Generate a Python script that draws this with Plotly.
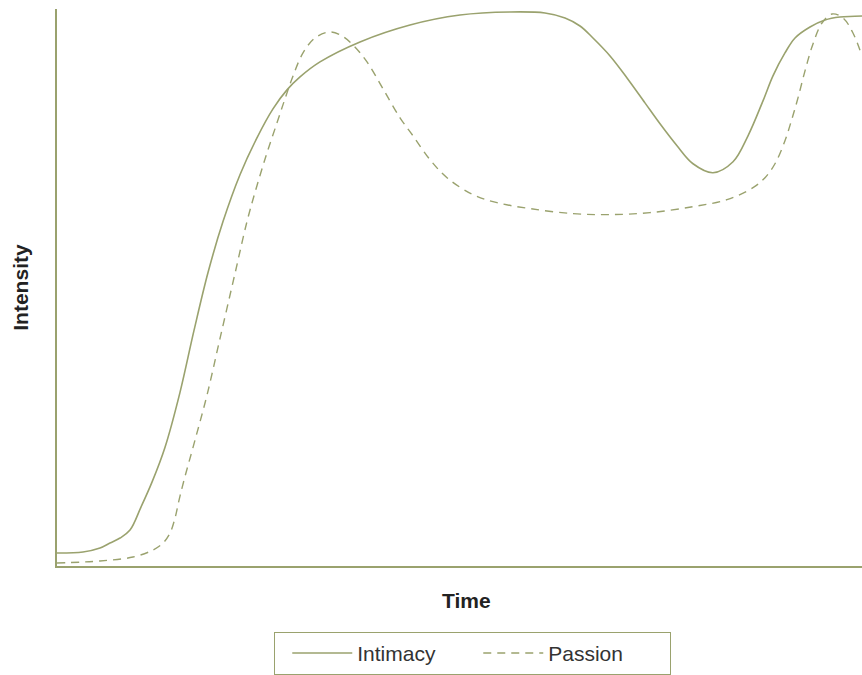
import plotly.graph_objects as go

# Data (time and intensity in arbitrary 0-100 units)
intimacy_time = [0.0, 3.23, 5.34, 6.58, 7.83, 9.07, 10.43, 11.80, 13.42, 15.28, 17.02, 18.76,
                 20.62, 22.73, 24.84, 26.83, 28.57, 30.19, 32.67, 37.64, 43.85, 50.06, 56.27,
                 60.62, 63.11, 64.97, 66.58, 68.70, 70.81, 73.04, 74.91, 77.02, 79.01, 81.49,
                 83.98, 85.84, 87.70, 88.94, 90.43, 91.68, 93.54, 95.40, 97.27, 100.0]
intimacy_val = [2.33, 2.51, 3.23, 4.12, 5.02, 6.45, 10.57, 15.05, 21.33, 31.18, 42.29, 52.69,
                61.83, 70.25, 76.88, 82.08, 85.48, 87.81, 90.50, 94.09, 97.13, 98.92, 99.46,
                99.28, 98.39, 96.95, 94.80, 91.58, 87.63, 83.15, 79.39, 75.45, 72.22, 70.61,
                72.58, 77.24, 83.51, 88.0, 92.11, 94.80, 96.77, 98.03, 98.57, 98.75]

passion_time = [0.0, 5.34, 9.44, 11.93, 13.17, 14.04, 14.66, 15.16, 15.78, 17.14, 18.63, 20.25,
                22.11, 23.60, 24.84, 26.09, 27.33, 28.32, 29.32, 30.56, 32.05, 33.91, 35.40,
                36.77, 38.51, 40.50, 42.61, 44.22, 46.34, 48.45, 51.68, 54.66, 58.76, 64.10,
                68.70, 73.66, 79.01, 83.23, 86.46, 87.95, 89.19, 90.43, 91.30, 92.05, 92.92,
                93.91, 95.03, 96.27, 97.64, 98.88, 100.0]
passion_val = [0.54, 0.90, 1.61, 2.87, 4.12, 5.91, 8.60, 11.83, 15.41, 22.58, 30.65, 40.86,
               52.51, 61.83, 68.28, 74.19, 79.57, 83.87, 87.99, 92.11, 94.80, 95.88, 95.16,
               93.55, 90.50, 85.66, 80.47, 77.24, 72.94, 69.71, 66.67, 65.23, 64.16, 63.26,
               63.08, 63.44, 64.52, 65.77, 67.92, 69.71, 72.22, 76.34, 80.29, 84.05, 88.89,
               93.73, 97.49, 99.10, 98.39, 95.70, 91.58]

series_names = ["Intimacy", "Passion"]
x_title = "Time"
y_title = "Intensity"

OLIVE = "#9aa26e"
FONT = "Liberation Sans, Arial, sans-serif"

fig = go.Figure()
fig.add_trace(go.Scatter(
    x=intimacy_time, y=intimacy_val, name=series_names[0], mode="lines",
    line=dict(color=OLIVE, width=1.6, shape="spline", smoothing=1.0),
))
fig.add_trace(go.Scatter(
    x=passion_time, y=passion_val, name=series_names[1], mode="lines",
    line=dict(color=OLIVE, width=1.4, dash="8px,6px", shape="spline", smoothing=1.0),
))

fig.update_layout(
    width=862, height=675,
    margin=dict(l=57, r=0, t=9, b=109),
    paper_bgcolor="white", plot_bgcolor="white",
    font=dict(family=FONT, color="#333333"),
    showlegend=True,
    legend=dict(
        orientation="h",
        x=0.2696, xanchor="left",
        y=-0.1183, yanchor="top",
        bordercolor=OLIVE, borderwidth=1,
        font=dict(size=21, color="#333333", family=FONT),
        title=dict(text="\u00a0", side="left", font=dict(size=8)),
        itemwidth=60,
        entrywidth=116, entrywidthmode="pixels",
        bgcolor="white",
    ),
    xaxis=dict(
        range=[0, 100], showgrid=False, zeroline=False, showticklabels=False, ticks="",
        showline=True, linecolor=OLIVE, linewidth=2,
    ),
    yaxis=dict(
        range=[0, 100], showgrid=False, zeroline=False, showticklabels=False, ticks="",
        showline=True, linecolor=OLIVE, linewidth=2,
    ),
    annotations=[
        dict(text="<b>" + x_title + "</b>", xref="paper", yref="paper",
             x=0.509, y=-0.0627, xanchor="center", yanchor="middle", showarrow=False,
             font=dict(size=21, color="#222222", family=FONT)),
        dict(text="<b>" + y_title + "</b>", xref="paper", yref="paper",
             x=-0.0457, y=0.5, xanchor="center", yanchor="middle", showarrow=False,
             textangle=-90, font=dict(size=21, color="#222222", family=FONT)),
    ],
)

fig.write_html("out.html", config={"displayModeBar": False},
               post_script="document.body.style.margin='0';")
